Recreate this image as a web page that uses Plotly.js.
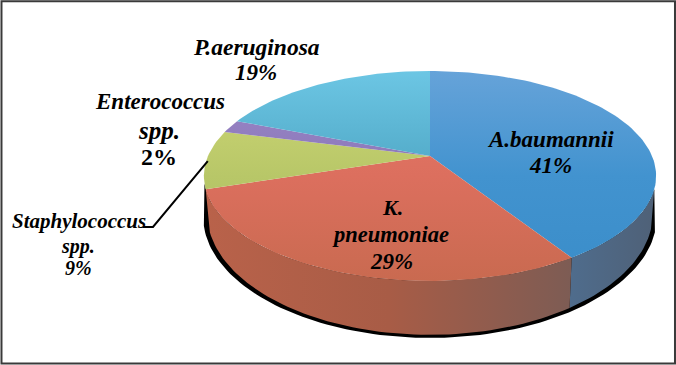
<!DOCTYPE html>
<html><head><meta charset="utf-8">
<script src="https://cdn.plot.ly/plotly-3.0.1.min.js"></script>
<style>html,body{margin:0;padding:0;background:#fff}#c{width:676px;height:365px}</style></head>
<body><div id="c"></div>
<script>
const categories = ["A.baumannii","K. pneumoniae","Staphylococcus spp.","Enterococcus spp.","P.aeruginosa"];
const values = [41,29,9,2,19];
const topColors = [
  ["#66a3d9","#4293cf","#3a8dc9"],
  ["#e5786a","#dc6f5e","#c96a50"],
  ["#d0d876","#b8c768","#a8bb60"],
  ["#9c88ca","#8b78b8","#8070ae"],
  ["#6cc6e4","#50a8c6","#4a9fbc"]
];
const wallColors = {0:["#4f6c8c","#4f6076"],1:["#b9624a","#a85c46","#7d5c54"]};
const labelLines = [
  ["<i><b>A.baumannii</b></i>",550,139,23],["<i><b>41%</b></i>",550,165,23],
  ["<i><b>K.</b></i>",392,207,22],["<i><b>pneumoniae</b></i>",390,234,22.5],["<i><b>29%</b></i>",391,261,23],
  ["<i><b>Staphylococcus</b></i>",79,221,21],["<i><b>spp.</b></i>",78,246,20],["<i><b>9%</b></i>",78,268,20],
  ["<i><b>Enterococcus</b></i>",160,101,23],["<i><b>spp.</b></i>",159,130,25],["<b>2%</b>",159,157,24],
  ["<i><b>P.aeruginosa</b></i>",256,47,23.5],["<i><b>19%</b></i>",256,72,23]
];
// projection of the tilted disc onto the page
const CX=430,CY=156,B=222,A=101.2,K=0.19,H=35.4,BOT=0.985;
function proj(deg,bottom,extra){
  const a=deg*Math.PI/180,u=Math.sin(a),v=Math.cos(a),d=1+K*v;
  let x=B*u/d,y=A*-v/d;
  if(bottom){x*=BOT;y+=H/(d*d);}
  if(extra){x*=extra.sx;y+=extra.dy;}
  return [CX+x,CY+y];
}
function arc(a0,a1,bottom,extra){
  const n=Math.max(2,Math.ceil(Math.abs(a1-a0)/1.5)),p=[];
  for(let i=0;i<=n;i++)p.push(proj(a0+(a1-a0)*i/n,bottom,extra));
  return p;
}
const total=values.reduce((s,v)=>s+v,0);
const edges=[0];values.forEach(v=>edges.push(edges[edges.length-1]+v/total*360));
function scale(cols){return cols.map((c,i)=>[i/(cols.length-1),c]);}
function poly(pts,grad,fill){
  const t={type:"scatter",mode:"lines",x:pts.map(p=>p[0]),y:pts.map(p=>p[1]),fill:"toself",
    line:{width:0,color:"rgba(0,0,0,0)"},hoverinfo:"skip",showlegend:false};
  if(grad)t.fillgradient=grad;else t.fillcolor=fill;
  return t;
}
const traces=[];
const VIS0=108;
// shadow
{
  const ex={sx:1.018,dy:3};
  const up=arc(VIS0,edges[2]+3,true,ex);
  const top=arc(edges[2]+3,VIS0,false,null);
  traces.push(poly(up.concat(top),null,"#000"));
}
// walls
{
  const p=arc(VIS0,edges[1],false).concat(arc(edges[1],VIS0,true));
  traces.push(poly(p,{type:"horizontal",colorscale:scale(wallColors[0]),start:proj(edges[1],false)[0],stop:660}));
  const q=arc(edges[1],edges[2],false).concat(arc(edges[2],edges[1],true));
  traces.push(poly(q,{type:"horizontal",colorscale:scale(wallColors[1]),start:205,stop:proj(edges[1],false)[0]}));
}
// top face
values.forEach((v,i)=>{
  const p=[[CX,CY]].concat(arc(edges[i],edges[i+1],false));p.push([CX,CY]);
  traces.push(poly(p,{type:"vertical",colorscale:scale(topColors[i]),start:proj(0,false)[1],stop:proj(180,false)[1]}));
});
// leader line
const leader=proj((edges[2]+edges[3])/2,false);
traces.push({type:"scatter",mode:"lines",x:[leader[0]+1,153,143],y:[leader[1]+2,227,227],
  line:{color:"#000",width:2},hoverinfo:"skip",showlegend:false});
const layout={width:676,height:365,margin:{l:0,r:0,t:0,b:0},paper_bgcolor:"#fff",plot_bgcolor:"#fff",
  xaxis:{range:[0,676],visible:false,fixedrange:true},
  yaxis:{range:[365,0],visible:false,fixedrange:true},
  showlegend:false,hovermode:false,
  shapes:[{type:"rect",xref:"paper",yref:"paper",x0:0.0022,x1:0.9985,y0:0.004,y1:0.9965,
    line:{color:"#3a3a3a",width:2},fillcolor:"rgba(0,0,0,0)"}],
  annotations:labelLines.map(l=>({x:l[1],y:l[2],xref:"x",yref:"y",text:l[0],showarrow:false,align:"center",
    xanchor:"center",yanchor:"middle",font:{family:"Liberation Serif",size:l[3],color:"#000"}}))
};
Plotly.newPlot("c",traces,layout,{displayModeBar:false,staticPlot:true});
</script></body></html>
